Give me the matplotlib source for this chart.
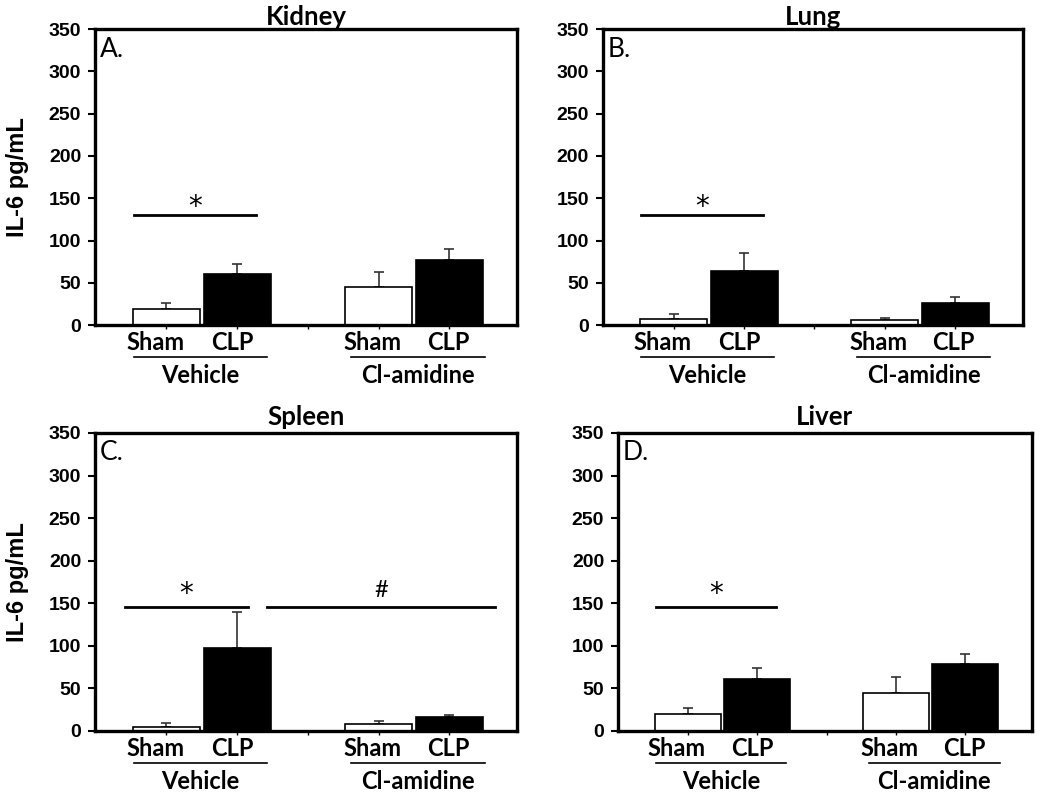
import numpy as np
import matplotlib.pyplot as plt

titles = ['Kidney', 'Lung', 'Spleen', 'Liver']
panel_tags = ['A.', 'B.', 'C.', 'D.']
groups = ['Vehicle', 'Cl-amidine']
conds = ['Sham', 'CLP', 'Sham', 'CLP']

# means and upper SEM for Vehicle-Sham, Vehicle-CLP, Cl-Sham, Cl-CLP
kidney = [19, 60, 45, 77]
kidney_err = [7, 12, 18, 13]
lung = [7, 64, 5.5, 26]
lung_err = [6, 21, 3.5, 7]
spleen = [5, 97.5, 8, 16.5]
spleen_err = [4.5, 42, 4, 2]
liver = [20, 61, 45, 78.5]
liver_err = [7, 13, 18, 11.5]

# significance bars: (x0, x1, y, symbol)
kidney_sig = [(0.54, 2.27, 130, '*')]
lung_sig = [(0.54, 2.27, 130, '*')]
spleen_sig = [(0.41, 2.15, 146, '*'), (2.42, 5.65, 146, '#')]
liver_sig = [(0.54, 2.27, 146, '*')]

means = [kidney, lung, spleen, liver]
errs = [kidney_err, lung_err, spleen_err, liver_err]
sigs = [kidney_sig, lung_sig, spleen_sig, liver_sig]

xpos = np.array([1, 2, 4, 5])
label_x = [0.84, 1.93, 3.91, 4.98]
fills = ['white', 'black', 'white', 'black']

ARIAL = 'Liberation Sans'
CAL = 'Lato'

fig = plt.figure(figsize=(10.5, 7.93), dpi=100)
boxes = [
    [0.0905, 0.590, 0.402, 0.3733],
    [0.574, 0.590, 0.400, 0.3733],
    [0.0905, 0.0782, 0.402, 0.3758],
    [0.5886, 0.0782, 0.394, 0.3758],
]

for i in range(4):
    ax = fig.add_axes(boxes[i])
    ax.bar(xpos, means[i], width=0.95, color=fills, edgecolor='black', linewidth=1.2, zorder=2)
    ax.errorbar(xpos, means[i], yerr=[np.zeros(4), errs[i]], fmt='none',
                ecolor='#333333', elinewidth=1.2, capsize=3.5, capthick=1.2, zorder=1)
    ax.set_xlim(-0.01, 5.96)
    ax.set_ylim(0, 350)
    ax.set_yticks(range(0, 351, 50))
    for lab in ax.get_yticklabels():
        lab.set_fontfamily(ARIAL)
        lab.set_fontweight('bold')
        lab.set_fontsize(14)
    ax.set_xticks([1, 2, 3, 4, 5])
    ax.set_xticklabels([])
    ax.tick_params(axis='x', length=3, width=1)
    ax.tick_params(axis='y', length=5, width=1.5, pad=5)
    for s in ax.spines.values():
        s.set_linewidth(2.4)

    tr = ax.get_xaxis_transform()
    for k in range(4):
        ax.text(label_x[k], -0.058, conds[k], transform=tr, ha='center', va='center',
                fontfamily=CAL, fontweight='bold', fontsize=17)
    for g, (x0, x1) in enumerate([(0.54, 2.42), (3.61, 5.50)]):
        ax.plot([x0, x1], [-0.108, -0.108], color='black', lw=1.2, transform=tr, clip_on=False)
        ax.text((x0 + x1) / 2, -0.17, groups[g], transform=tr, ha='center', va='center',
                fontfamily=CAL, fontweight='bold', fontsize=17)

    star_off = 9.5 if i < 2 else 15
    for (x0, x1, y, sym) in sigs[i]:
        ax.plot([x0, x1], [y, y], color='black', lw=2)
        if sym == '*':
            ax.text((x0 + x1) / 2, y + star_off, sym, ha='center', va='center',
                    fontfamily='DejaVu Sans', fontsize=20)
        else:
            ax.text((x0 + x1) / 2, y + 19.5, sym, ha='center', va='center',
                    fontfamily=CAL, fontsize=17)

    ax.text(0.012, 0.975, panel_tags[i], transform=ax.transAxes, ha='left', va='top',
            fontfamily=CAL, fontsize=19)
    ax.set_title(titles[i], fontfamily=CAL, fontweight='bold', fontsize=18.5,
                 pad=2 if i < 2 else 6)
    if i % 2 == 0:
        ax.set_ylabel('IL-6 pg/mL', fontfamily=ARIAL, fontweight='bold', fontsize=17, labelpad=14)

fig.savefig('out.png', dpi=100)
